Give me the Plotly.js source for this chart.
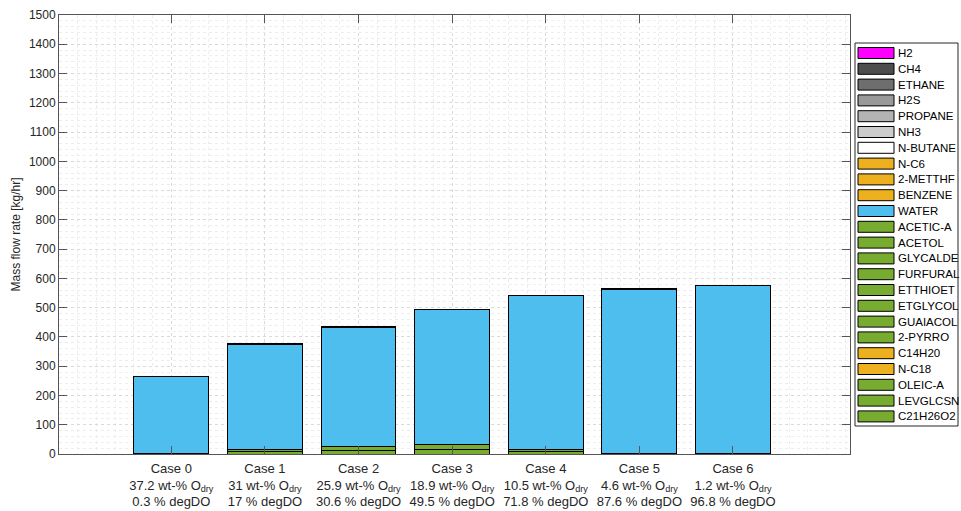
<!DOCTYPE html>
<html>
<head>
<meta charset="utf-8">
<script src="https://cdn.plot.ly/plotly-3.0.1.min.js"></script>
<style>
  html, body { margin: 0; padding: 0; background: #fff; }
  #chart { width: 961px; height: 511px; }
</style>
</head>
<body>
<div id="chart"></div>
<script>
// ---- data ----
const cases = ['Case 0', 'Case 1', 'Case 2', 'Case 3', 'Case 4', 'Case 5', 'Case 6'];
const oxygenDry = ['37.2', '31', '25.9', '18.9', '10.5', '4.6', '1.2'];   // wt-% O (dry basis)
const degDO = ['0.3', '17', '30.6', '49.5', '71.8', '87.6', '96.8'];      // % degree of deoxygenation

// legend order (top to bottom)
const components = ['H2', 'CH4', 'ETHANE', 'H2S', 'PROPANE', 'NH3', 'N-BUTANE', 'N-C6',
  '2-METTHF', 'BENZENE', 'WATER', 'ACETIC-A', 'ACETOL', 'GLYCALDE', 'FURFURAL', 'ETTHIOET',
  'ETGLYCOL', 'GUAIACOL', '2-PYRRO', 'C14H20', 'N-C18', 'OLEIC-A', 'LEVGLCSN', 'C21H26O2'];
const componentColors = ['#FF00FF', '#4D4D4D', '#6E6E6E', '#999999', '#B3B3B3', '#CCCCCC', '#FFFFFF',
  '#EDB120', '#EDB120', '#EDB120', '#4DBEEE', '#77AC30', '#77AC30', '#77AC30', '#77AC30', '#77AC30',
  '#77AC30', '#77AC30', '#77AC30', '#EDB120', '#EDB120', '#77AC30', '#77AC30', '#77AC30'];

// mass flow rates [kg/hr] per case
const flowLevglcsn = [2, 8, 12, 14, 10, 0.5, 0.5];
const flowGuaiacol = [1, 8, 12, 20, 6, 0.5, 0.5];
const flowWater = [261, 358.5, 408.5, 459.5, 525, 561.5, 574.5];
const flowNC18 = [0, 1.5, 1.5, 1.5, 1, 1.5, 1.5];

// stacking order, bottom to top
const stackNames = ['LEVGLCSN', 'GUAIACOL', 'WATER', 'N-C18'];
const stackValues = [flowLevglcsn, flowGuaiacol, flowWater, flowNC18];

// ---- geometry ----
const W = 961, H = 511;
const M = { l: 59, r: 111, t: 15, b: 57 };
const plotW = W - M.l - M.r, plotH = H - M.t - M.b;
const px = x => (x - M.l) / plotW;
const py = y => (H - M.b - y) / plotH;

const xPos = cases.map((_, i) => i);
const traces = stackNames.map((name, k) => ({
  type: 'bar',
  name: name,
  x: xPos,
  y: stackValues[k],
  width: 0.8,
  marker: {
    color: componentColors[components.indexOf(name)],
    line: { color: '#000000', width: 1 }
  },
  showlegend: false,
  hoverinfo: 'name+y'
}));

const tickText = cases.map((c, i) =>
  c + '<br>' + oxygenDry[i] + ' wt-% O<sub>dry</sub><br>' + degDO[i] + ' % degDO');

// ---- legend box drawn as shapes/annotations ----
const shapes = [];
const annotations = [];
const legBox = { x0: 855, x1: 958, y0: 43, y1: 426 };
shapes.push({
  type: 'rect', xref: 'paper', yref: 'paper',
  x0: px(legBox.x0), x1: px(legBox.x1), y0: py(legBox.y1), y1: py(legBox.y0),
  line: { color: '#262626', width: 1 }, fillcolor: '#FFFFFF', layer: 'above'
});
const rowStart = 53, rowStep = 15.8;
components.forEach((name, i) => {
  const cy = rowStart + i * rowStep;
  shapes.push({
    type: 'rect', xref: 'paper', yref: 'paper',
    x0: px(858), x1: px(894), y0: py(cy + 5.5), y1: py(cy - 5.5),
    line: { color: '#000000', width: 1 }, fillcolor: componentColors[i], layer: 'above'
  });
  annotations.push({
    xref: 'paper', yref: 'paper', x: px(896), y: py(cy),
    xanchor: 'left', yanchor: 'middle', showarrow: false,
    text: name, font: { family: 'Liberation Sans, Arial, sans-serif', size: 11.5, color: '#000000' }
  });
});

const gridMajor = '#DADADA';
const gridMinor = '#EDEDED';

const layout = {
  width: W, height: H,
  margin: M,
  paper_bgcolor: '#FFFFFF',
  plot_bgcolor: '#FFFFFF',
  barmode: 'stack',
  showlegend: false,
  font: { family: 'Liberation Sans, Arial, sans-serif', size: 12, color: '#262626' },
  xaxis: {
    range: [-1.2, 7.25],
    tickmode: 'array',
    tickvals: xPos,
    ticktext: tickText,
    ticks: 'inside', ticklen: 8, tickcolor: '#555555', tickwidth: 1,
    showline: true, linecolor: '#555555', linewidth: 1, mirror: 'ticks',
    showgrid: true, gridcolor: gridMajor, griddash: 'dot', gridwidth: 1,
    minor: { dtick: 0.2, tick0: 0, showgrid: true, gridcolor: gridMinor, griddash: 'dot', ticks: '' },
    zeroline: false,
    tickfont: { size: 13, color: '#262626' },
    ticklabelstandoff: 2,
    layer: 'above traces'
  },
  yaxis: {
    range: [0, 1500],
    dtick: 100,
    ticks: 'inside', ticklen: 8, tickcolor: '#555555', tickwidth: 1,
    showline: true, linecolor: '#555555', linewidth: 1, mirror: 'ticks',
    showgrid: true, gridcolor: gridMajor, griddash: 'dot', gridwidth: 1,
    minor: { dtick: 20, showgrid: true, gridcolor: gridMinor, griddash: 'dot', ticks: '' },
    zeroline: false,
    tickfont: { size: 12, color: '#262626' },
    title: { text: 'Mass flow rate [kg/hr]', font: { size: 12, color: '#262626' }, standoff: 5 },
    layer: 'above traces'
  },
  shapes: shapes,
  annotations: annotations
};

Plotly.newPlot('chart', traces, layout, { displayModeBar: false, staticPlot: true });
</script>
</body>
</html>
